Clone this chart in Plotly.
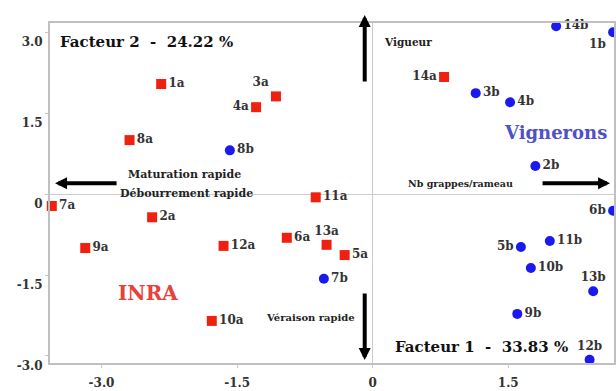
import plotly.graph_objects as go

# INRA (red squares)
labels_a = ["1a", "3a", "4a", "8a", "7a", "2a", "9a", "12a", "6a", "10a", "11a", "13a", "5a", "14a"]
x_a = [-2.34, -1.07, -1.29, -2.69, -3.55, -2.44, -3.18, -1.65, -0.95, -1.78, -0.63, -0.51, -0.31, 0.79]
y_a = [2.04, 1.81, 1.61, 1.00, -0.22, -0.43, -1.00, -0.96, -0.81, -2.35, -0.06, -0.94, -1.13, 2.17]

# Vignerons (blue circles)
labels_b = ["8b", "7b", "3b", "4b", "2b", "14b", "1b", "6b", "5b", "11b", "10b", "13b", "9b", "12b"]
x_b = [-1.58, -0.54, 1.14, 1.52, 1.80, 2.03, 2.66, 2.66, 1.64, 1.96, 1.75, 2.44, 1.60, 2.40]
y_b = [0.81, -1.57, 1.87, 1.70, 0.52, 3.11, 3.00, -0.31, -0.98, -0.87, -1.37, -1.80, -2.22, -3.07]

x_ticks = [-3.0, -1.5, 0, 1.5]
x_ticktext = ["-3.0", "-1.5", "0", "1.5"]
y_ticks = [-3.0, -1.5, 0, 1.5, 3.0]
y_ticktext = ["-3.0", "-1.5", "0", "1.5", "3.0"]

pos_a = ["middle right", "top left", "middle left", "middle right", "middle right", "middle right",
         "middle right", "middle right", "middle right", "middle right", "middle right", "top center",
         "middle right", "middle left"]
pos_b = ["middle right", "middle right", "middle right", "middle right", "middle right", "middle right",
         "bottom left", "middle left", "middle left", "middle right", "middle right", "top center",
         "middle right", "top center"]

FONT = "DejaVu Serif"
lab_font = dict(family=FONT, size=12, color="#333333", weight="bold")

fig = go.Figure()
fig.add_trace(go.Scatter(
    x=x_a, y=y_a, mode="markers+text", text=labels_a, textposition=pos_a,
    marker=dict(symbol="square", size=10, color="#f02010"),
    textfont=lab_font, showlegend=False, cliponaxis=False))
fig.add_trace(go.Scatter(
    x=x_b, y=y_b, mode="markers+text", text=labels_b, textposition=pos_b,
    marker=dict(symbol="circle", size=10, color="#1a1aee"),
    textfont=lab_font, showlegend=False, cliponaxis=False))

def txt(x, y, s, size, color="#222222", xanchor="center"):
    fig.add_annotation(x=x, y=y, xref="x", yref="y", text=s, showarrow=False,
                       xanchor=xanchor, yanchor="middle",
                       font=dict(family=FONT, size=size, color=color, weight="bold"))

txt(-3.48, 2.81, "Facteur 2  -  24.22 %", 15, "#111111", "left")
txt(0.23, -2.83, "Facteur 1  -  33.83 %", 15, "#111111", "left")
txt(0.10, 2.81, "Vigueur", 10.5, "#222222", "left")
txt(0.97, 0.20, "Nb grappes/rameau", 9.5, "#222222")
txt(-2.08, 0.37, "Maturation rapide", 11, "#222222")
txt(-2.06, 0.02, "Débourrement rapide", 11, "#222222")
txt(-0.69, -2.28, "Véraison rapide", 10, "#222222")
txt(-2.49, -1.83, "INRA", 20, "#e8403a")
txt(2.02, 1.15, "Vignerons", 18, "#5050c8")

arrow = dict(text="", showarrow=True, arrowhead=2, arrowwidth=4, arrowsize=0.6,
             arrowcolor="#000000", standoff=0, startstandoff=0)
# left / right arrows (paper refs, pixel tails)
fig.add_annotation(xref="paper", yref="paper", x=0.009, y=0.529, ax=63, ay=0, **arrow)
fig.add_annotation(xref="paper", yref="paper", x=0.993, y=0.529, ax=-69, ay=0, **arrow)
# up / down arrows
fig.add_annotation(xref="paper", yref="paper", x=0.558, y=1.0235, ax=0, ay=68, **arrow)
fig.add_annotation(xref="paper", yref="paper", x=0.558, y=0.009, ax=0, ay=-68, **arrow)

tick_font = dict(family=FONT, size=12, color="#333333", weight="bold")
fig.update_xaxes(range=[-3.57, 2.67], tickvals=x_ticks, ticktext=x_ticktext,
                 showgrid=False, zeroline=True, zerolinecolor="#cccccc", zerolinewidth=1,
                 showline=True, linecolor="#c0c0c0", linewidth=2, mirror=True,
                 ticks="outside", ticklen=3, tickcolor="#c8c8c8",
                 tickfont=tick_font, ticklabelstandoff=5)
fig.update_yaxes(range=[-3.13, 3.17], tickvals=y_ticks, ticktext=y_ticktext,
                 showgrid=False, zeroline=True, zerolinecolor="#cccccc", zerolinewidth=1,
                 showline=True, linecolor="#c0c0c0", linewidth=2, mirror=True,
                 ticks="outside", ticklen=3, tickcolor="#c8c8c8",
                 tickfont=tick_font, ticklabelstandoff=0, ticklabelshift=10)
fig.update_layout(width=616, height=391, margin=dict(l=50, r=0, t=23, b=28),
                  paper_bgcolor="white", plot_bgcolor="white")
fig.write_html("out.html")
